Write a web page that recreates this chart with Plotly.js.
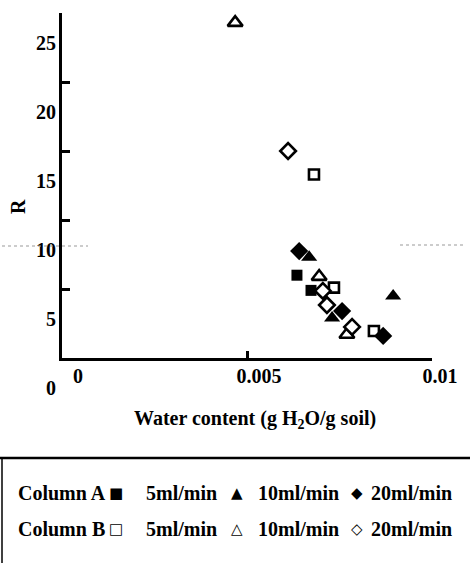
<!DOCTYPE html>
<html>
<head>
<meta charset="utf-8">
<script src="https://cdn.plot.ly/plotly-3.0.1.min.js"></script>
<style>html,body{margin:0;padding:0;background:#fff;}#chart{width:470px;height:563px;}</style>
</head>
<body>
<div id="chart"></div>
<script>
// ---- data (water content g H2O/g soil, R) ----
var colA5_x  = [0.00635, 0.00673];
var colA5_y  = [6.0, 4.9];
var colA10_x = [0.00668, 0.00895, 0.00730];
var colA10_y = [7.3, 4.5, 2.9];
var colA20_x = [0.00641, 0.00757, 0.00868];
var colA20_y = [7.75, 3.4, 1.6];
var colB5_x  = [0.00681, 0.00735, 0.00843];
var colB5_y  = [13.3, 5.1, 1.96];
var colB10_x = [0.00468, 0.00695, 0.00770];
var colB10_y = [24.3, 5.9, 1.7];
var colB20_x = [0.00611, 0.00705, 0.00716, 0.00784];
var colB20_y = [15.0, 4.86, 3.84, 2.25];

var xTickVals = [0, 0.005, 0.01];
var xTickText = ['0', '0.005', '0.01'];
var yTickVals = [0, 5, 10, 15, 20, 25];
var yTickText = ['0', '5', '10', '15', '20', '25'];

var legendRows = [
  {label: 'Column A', syms: ['■', '▲', '◆']},
  {label: 'Column B', syms: ['□', '△', '◇']}
];
var rateLabels = ['5ml/min', '10ml/min', '20ml/min'];

// ---- layout helpers ----
var W = 470, H = 563;
var L = 62, R = 432, T = 13, B = 358;   // plot frame (axis lines)
var RL = 462, BL = 400;                 // outer edge of the label bands
function px(x){ return (x - L) / (RL - L); }
function py(y){ return (BL - y) / (BL - T); }
var serif = 'Liberation Serif, Times New Roman, serif';
var f = {family: serif, size: 20, color: '#000', weight: 'bold'};

function tr(x, y, sym, filled, size){
  return {
    x: x, y: y, type: 'scatter', mode: 'markers', showlegend: false, cliponaxis: false,
    marker: {symbol: sym, size: size,
      color: filled ? '#000' : '#fff',
      line: {color: '#000', width: filled ? 0 : 2.6}}
  };
}
var data = [
  tr(colA5_x, colA5_y, 'square', true, 11),
  tr(colB5_x, colB5_y, 'square', false, 10),
  tr(colA10_x, colA10_y, 'triangle-up', true, 14),
  tr(colB10_x, colB10_y, 'triangle-up', false, 13),
  tr(colA20_x, colA20_y, 'diamond', true, 14),
  tr(colB20_x, colB20_y, 'diamond', false, 12),
  {x: [], y: [], type: 'scatter', mode: 'markers', xaxis: 'x2', yaxis: 'y2', showlegend: false}
];

var ann = [];
ann.push({xref:'paper', yref:'paper', x: px(18), y: py(207), text: 'R', showarrow:false,
  textangle: -90, font: f, xanchor:'center', yanchor:'middle'});
ann.push({xref:'paper', yref:'paper', x: px(255), y: py(419), text: 'Water content (g H<sub>2</sub>O/g soil)', showarrow:false,
  font: f, xanchor:'center', yanchor:'middle'});

var rowY = [493, 529];
var labelX = 16, symX = [116, 237, 357], textX = [144, 256, 369];
legendRows.forEach(function(row, r){
  ann.push({xref:'paper', yref:'paper', x: px(labelX), y: py(rowY[r]), text: row.label, showarrow:false,
    font: f, xanchor:'left', yanchor:'middle'});
  row.syms.forEach(function(s, i){
    ann.push({xref:'paper', yref:'paper', x: px(symX[i]), y: py(rowY[r]), text: s, showarrow:false,
      font:{family: 'DejaVu Sans', size: 15, color:'#000', weight: 'bold'}, xanchor:'center', yanchor:'middle'});
    ann.push({xref:'paper', yref:'paper', x: px(textX[i]), y: py(rowY[r]), text: rateLabels[i], showarrow:false,
      font: f, xanchor:'left', yanchor:'middle'});
  });
});

var shapes = [
  {type:'line', xref:'paper', yref:'paper', x0: px(0), x1: px(W), y0: py(458), y1: py(458),
    line:{color:'#000', width:2.5}},
  {type:'line', xref:'paper', yref:'paper', x0: px(2), x1: px(2), y0: py(458), y1: py(H + 5),
    line:{color:'#000', width:1.5}},
  {type:'line', xref:'paper', yref:'paper', x0: px(2), x1: px(88), y0: py(246), y1: py(246),
    line:{color:'#999', width:1, dash:'dot'}},
  {type:'line', xref:'paper', yref:'paper', x0: px(400), x1: px(466), y0: py(245), y1: py(245),
    line:{color:'#999', width:1, dash:'dot'}}
];

// label bands: the scanned original prints its tick labels offset from the tick marks
var yPxPerUnit = (B - T) / 25;
var yShift = 30;                                     // y labels sit 30 px below their ticks
var y2lo = -((BL - B) - yShift) / yPxPerUnit;
var y2hi = y2lo + (BL - T) / yPxPerUnit;
var x0px = 78, x1px = 440;                           // pixel centres of labels "0" and "0.01"
var xPxPerUnit = (x1px - x0px) / 0.01;
var x2lo = (L - x0px) / xPxPerUnit;
var x2hi = (RL - x0px) / xPxPerUnit;

var layout = {
  width: W, height: H,
  margin: {l: L, r: W - RL, t: T, b: H - BL, pad: 0},
  paper_bgcolor: '#fff', plot_bgcolor: 'rgba(0,0,0,0)',
  showlegend: false,
  font: f,
  xaxis: {range: [0, 0.01], domain: [0, (R - L) / (RL - L)], anchor: 'y',
    showgrid: false, zeroline: false, showline: true, linewidth: 3, linecolor: '#000',
    ticks: 'inside', ticklen: 7, tickwidth: 3, tickcolor: '#000',
    tickmode: 'array', tickvals: xTickVals, showticklabels: false},
  yaxis: {range: [0, 25], domain: [(BL - B) / (BL - T), 1], anchor: 'x',
    showgrid: false, zeroline: false, showline: true, linewidth: 3, linecolor: '#000',
    ticks: 'inside', ticklen: 8, tickwidth: 3, tickcolor: '#000',
    tickmode: 'array', tickvals: yTickVals, showticklabels: false},
  xaxis2: {range: [x2lo, x2hi], domain: [0, 1], anchor: 'y', side: 'bottom',
    showgrid: false, zeroline: false, showline: false, ticks: '',
    tickmode: 'array', tickvals: xTickVals, ticktext: xTickText,
    ticklabelstandoff: 4, tickfont: f},
  yaxis2: {range: [y2lo, y2hi], domain: [0, 1], anchor: 'x', side: 'left',
    showgrid: false, zeroline: false, showline: false, ticks: '',
    tickmode: 'array', tickvals: yTickVals, ticktext: yTickText,
    ticklabelstandoff: 5, tickfont: f},
  annotations: ann,
  shapes: shapes
};
Plotly.newPlot('chart', data, layout, {displayModeBar: false, staticPlot: true});
</script>
</body>
</html>
